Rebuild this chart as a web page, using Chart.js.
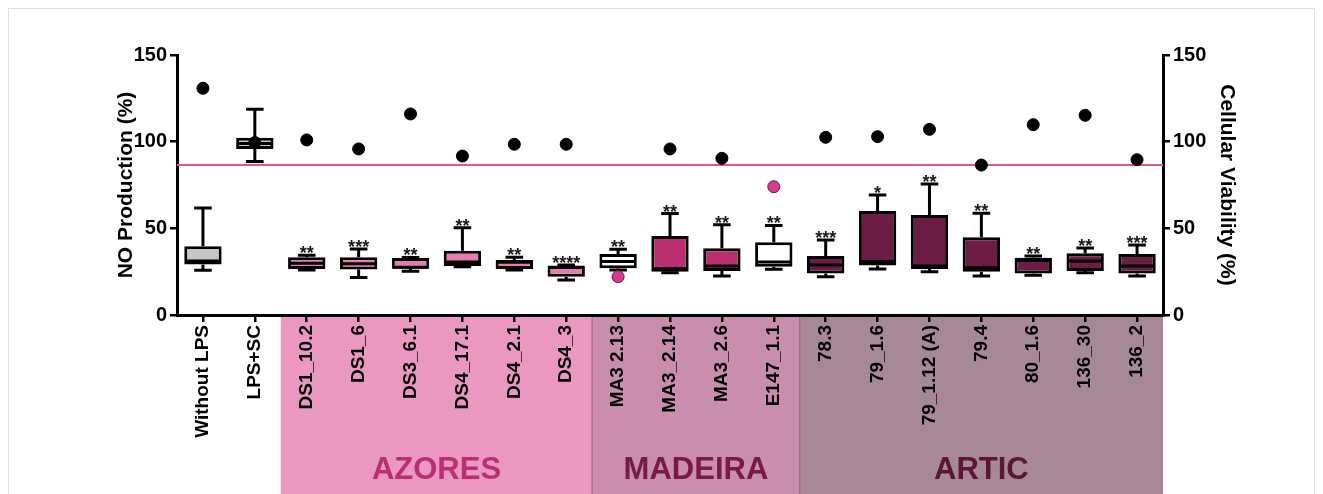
<!DOCTYPE html>
<html>
<head>
<meta charset="utf-8">
<script src="https://cdn.jsdelivr.net/npm/chart.js@4.4.1/dist/chart.umd.min.js"></script>
<style>
  html, body { margin: 0; padding: 0; background: #ffffff; }
  #wrap { position: relative; width: 1323px; height: 494px; }
  canvas { display: block; }
</style>
</head>
<body>
<div id="wrap"><canvas id="chart" width="1323" height="494"></canvas></div>
<script>
// Strains and controls along the x axis
const categories = ['Without LPS', 'LPS+SC', 'DS1_10.2', 'DS1_6', 'DS3_6.1', 'DS4_17.1', 'DS4_2.1', 'DS4_3',
  'MA3 2.13', 'MA3_2.14', 'MA3_2.6', 'E147_1.1',
  '78.3', '79_1.6', '79_1.12 (A)', '79.4', '80_1.6', '136_30', '136_2'];

// NO production (%) box-and-whisker summaries
const whiskerLow  = [25.8, 88.5, 26.0, 21.7, 25.2, 27.9, 26.0, 20.2, 26.0, 24.4, 22.5, 26.4, 22.1, 26.5, 25.0, 22.5, 23.0, 24.4, 22.5];
const quartile1   = [29.2, 95.8, 26.6, 26.2, 26.7, 28.3, 26.5, 22.0, 26.9, 25.0, 25.4, 27.9, 24.0, 28.5, 26.5, 25.0, 24.0, 25.4, 24.0];
const median      = [31.2, 99.0, 29.8, 29.6, 27.5, 30.6, 30.5, 27.5, 30.8, 26.7, 28.3, 30.6, 28.8, 30.8, 28.3, 27.3, 31.5, 31.2, 28.3];
const quartile3   = [39.6, 102.3, 33.3, 33.3, 32.9, 37.1, 31.7, 28.3, 35.2, 45.6, 38.5, 41.9, 34.0, 60.0, 57.7, 44.8, 33.1, 35.6, 35.2];
const whiskerHigh = [61.7, 118.7, 34.4, 38.1, 33.2, 50.4, 33.3, 28.8, 37.9, 58.5, 52.1, 51.7, 43.3, 69.2, 75.6, 58.7, 34.0, 38.7, 40.4];

// Cellular viability (%) on the right axis
const viability = [130.8, 99.5, 101.0, 95.8, 116.0, 91.7, 98.5, 98.5, 22.1, 95.8, 90.4, 74.0, 102.5, 102.9, 107.1, 86.5, 109.8, 115.2, 89.6];

// Significance marks above each box
const significance = ['', '', '**', '***', '**', '**', '**', '****', '**', '**', '**', '**', '***', '*', '**', '**', '**', '**', '***'];

// Viability reference level
const viabilityThreshold = 86.5;

// Sampling regions (first and last category index of each)
const regionNames = ['AZORES', 'MADEIRA', 'ARTIC'];
const regionFirst = [2, 8, 12];
const regionLast  = [7, 11, 18];

// Shared tick values for both y axes
const yTicks = [0, 50, 100, 150];

// ---- styling ----
const FONT = "'Liberation Sans', Arial, Helvetica, sans-serif";
const grey = '#c6c6c6', azPink = '#e67bb0', madPink = '#b92f6f', arcWine = '#6d1c45';
const boxFill = [grey, grey, azPink, azPink, azPink, azPink, azPink, azPink,
  '#ffffff', madPink, madPink, '#ffffff',
  arcWine, arcWine, arcWine, arcWine, arcWine, arcWine, arcWine];
const dotFill = viability.map((v, i) => (i === 8 || i === 11) ? '#d83b8b' : '#000000');
const dotEdge = viability.map((v, i) => (i === 8 || i === 11) ? '#6a1a40' : '#000000');
const regionBand  = ['#ea98c2', '#c98dad', '#a78897'];
const regionEdge  = ['#d47fa9', '#b0708f', '#957585'];
const regionText  = ['#b8306f', '#771a48', '#5c1537'];

const boxData = categories.map((c, i) => [quartile1[i], quartile3[i]]);

// Coloured bands under the x axis with region names
const regionPlugin = {
  id: 'regions',
  beforeDraw(chart) {
    const ctx = chart.ctx, x = chart.scales.x, area = chart.chartArea;
    const half = (x.getPixelForValue(1) - x.getPixelForValue(0)) / 2;
    ctx.save();
    // faint frame round the figure
    ctx.strokeStyle = '#e0e0e0';
    ctx.lineWidth = 1;
    ctx.strokeRect(8.5, 8.5, chart.width - 17, chart.height + 10);
    regionNames.forEach((name, r) => {
      const l = x.getPixelForValue(regionFirst[r]) - half;
      const rr = x.getPixelForValue(regionLast[r]) + half;
      ctx.fillStyle = regionBand[r];
      ctx.fillRect(l, area.bottom, rr - l, chart.height - area.bottom);
      if (r > 0) {
        ctx.strokeStyle = regionEdge[r];
        ctx.lineWidth = 1.5;
        ctx.beginPath();
        ctx.moveTo(l, area.bottom);
        ctx.lineTo(l, chart.height);
        ctx.stroke();
      }
    });
    ctx.restore();
  },
  afterDraw(chart) {
    const ctx = chart.ctx, x = chart.scales.x;
    ctx.save();
    ctx.font = 'bold 31px ' + FONT;
    ctx.textAlign = 'center';
    ctx.textBaseline = 'middle';
    regionNames.forEach((name, r) => {
      const cx = (x.getPixelForValue(regionFirst[r]) + x.getPixelForValue(regionLast[r])) / 2;
      ctx.fillStyle = regionText[r];
      ctx.fillText(name, cx, 470);
    });
    ctx.restore();
  }
};

// Horizontal viability reference line
const thresholdPlugin = {
  id: 'threshold',
  beforeDatasetsDraw(chart) {
    const ctx = chart.ctx, area = chart.chartArea;
    const yy = chart.scales.y2.getPixelForValue(viabilityThreshold);
    ctx.save();
    ctx.strokeStyle = '#e0569a';
    ctx.lineWidth = 2;
    ctx.beginPath();
    ctx.moveTo(area.left, yy);
    ctx.lineTo(area.right, yy);
    ctx.stroke();
    ctx.restore();
  }
};

// Whiskers, medians and significance marks on top of the boxes
const whiskerPlugin = {
  id: 'whiskers',
  afterDatasetDraw(chart, args) {
    if (args.index !== 0) return;
    const ctx = chart.ctx, y = chart.scales.y;
    ctx.save();
    ctx.strokeStyle = '#000';
    ctx.lineWidth = 3;
    ctx.font = 'bold 18px ' + FONT;
    ctx.fillStyle = '#1a1a1a';
    ctx.textAlign = 'center';
    ctx.textBaseline = 'alphabetic';
    args.meta.data.forEach((bar, i) => {
      const cx = bar.x, w = bar.width, cap = w * 0.47;
      const pLo = y.getPixelForValue(whiskerLow[i]);
      const pHi = y.getPixelForValue(whiskerHigh[i]);
      const pQ1 = y.getPixelForValue(quartile1[i]);
      const pQ3 = y.getPixelForValue(quartile3[i]);
      const pMed = y.getPixelForValue(median[i]);
      ctx.beginPath();
      ctx.moveTo(cx, pQ3); ctx.lineTo(cx, pHi);
      ctx.moveTo(cx - cap / 2, pHi); ctx.lineTo(cx + cap / 2, pHi);
      ctx.moveTo(cx, pQ1); ctx.lineTo(cx, pLo);
      ctx.moveTo(cx - cap / 2, pLo); ctx.lineTo(cx + cap / 2, pLo);
      ctx.moveTo(cx - w / 2 + 1, pMed); ctx.lineTo(cx + w / 2 - 1, pMed);
      ctx.stroke();
      if (significance[i]) {
        ctx.fillText(significance[i], cx, pHi + 4);
      }
    });
    ctx.restore();
  }
};

const axisTickFont = { family: FONT, size: 20, weight: 'bold' };

new Chart(document.getElementById('chart'), {
  type: 'bar',
  data: {
    labels: categories,
    datasets: [
      {
        label: 'NO Production (%)',
        data: boxData,
        yAxisID: 'y',
        order: 2,
        backgroundColor: boxFill,
        borderColor: '#000000',
        borderWidth: 3,
        borderSkipped: false,
        barPercentage: 0.72,
        categoryPercentage: 1.0
      },
      {
        type: 'line',
        label: 'Cellular Viability (%)',
        data: viability,
        yAxisID: 'y2',
        order: 1,
        showLine: false,
        pointRadius: 6,
        pointHoverRadius: 6,
        pointBackgroundColor: dotFill,
        pointBorderColor: dotEdge,
        pointBorderWidth: 1
      }
    ]
  },
  options: {
    responsive: false,
    animation: false,
    devicePixelRatio: 1,
    layout: { padding: { left: 114, right: 84, top: 55, bottom: 0 } },
    plugins: { legend: { display: false }, tooltip: { enabled: false } },
    scales: {
      x: {
        offset: true,
        grid: { offset: false, drawOnChartArea: false, drawTicks: true, tickLength: 7, color: '#000', lineWidth: 2.5 },
        border: { display: true, color: '#000', width: 3 },
        ticks: { color: '#000', font: { family: FONT, size: 19, weight: 'bold' }, minRotation: 90, maxRotation: 90, padding: 3, autoSkip: false },
        afterFit(scale) { scale.height = 179; }
      },
      y: {
        position: 'left',
        min: 0, max: 150,
        afterBuildTicks(scale) { scale.ticks = yTicks.map(v => ({ value: v })); },
        grid: { drawOnChartArea: false, drawTicks: true, tickLength: 7, color: '#000', lineWidth: 2.5 },
        border: { display: true, color: '#000', width: 3 },
        ticks: { color: '#000', font: axisTickFont, padding: 3 },
        title: { display: true, text: 'NO Production (%)', color: '#000', font: { family: FONT, size: 21, weight: 'bold' }, padding: { top: 0, bottom: 0 } },
        afterFit(scale) { scale.width = 63; }
      },
      y2: {
        position: 'right',
        min: 0, max: 150,
        afterBuildTicks(scale) { scale.ticks = yTicks.map(v => ({ value: v })); },
        grid: { drawOnChartArea: false, drawTicks: true, tickLength: 7, color: '#000', lineWidth: 2.5 },
        border: { display: true, color: '#000', width: 3 },
        ticks: { color: '#000', font: axisTickFont, padding: 3 },
        title: { display: true, text: 'Cellular Viability (%)', color: '#000', font: { family: FONT, size: 21, weight: 'bold' }, padding: { top: 0, bottom: 0 } },
        afterFit(scale) { scale.width = 76; }
      }
    }
  },
  plugins: [regionPlugin, thresholdPlugin, whiskerPlugin]
});
</script>
</body>
</html>
